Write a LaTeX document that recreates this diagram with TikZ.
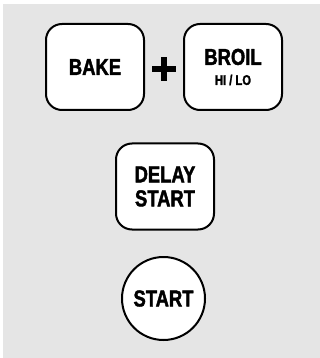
\documentclass[tikz,border=0pt]{standalone}
\usepackage{fontspec}
\usepackage{tikz}
\usetikzlibrary{positioning}
\newfontfamily\keyfont{Liberation Sans}[UprightFont={* Bold}, FakeStretch=0.8, FakeBold=1.8]
\definecolor{panelgray}{HTML}{E5E5E5}
\tikzset{
  keybox/.style = {draw, line width=2pt, fill=white, rounded corners=16pt,
    minimum width=98pt, minimum height=86pt, align=center, inner sep=0pt,
    font=\keyfont\fontsize{23}{24}\selectfont},
  keyround/.style = {draw, line width=2pt, fill=white, circle,
    minimum size=83pt, inner sep=0pt,
    font=\keyfont\fontsize{23}{24}\selectfont}
}
\begin{document}
\begin{tikzpicture}[x=1pt, y=1pt]
    \useasboundingbox (0, 0) rectangle (320, -358);
    \fill [panelgray] (3, -4) rectangle (320, -358);

    \node [keybox] (bake) at (95, -67) {BAKE};
    \node [keybox] (broil) at (233, -67) {BROIL\\[-4pt]{\fontsize{14}{14}\selectfont HI / LO}};
    \node [keybox] (delay) at (165, -186.5) {DELAY\\START};
    \node [keyround] (start) at (163.5, -298.5) {START};

    \coordinate (plus) at (164, -69);
    \draw [line width=6pt] ([xshift=-12pt]plus) -- ([xshift=12pt]plus);
    \draw [line width=6pt] ([yshift=-12pt]plus) -- ([yshift=12pt]plus);
  \end{tikzpicture}
\end{document}
